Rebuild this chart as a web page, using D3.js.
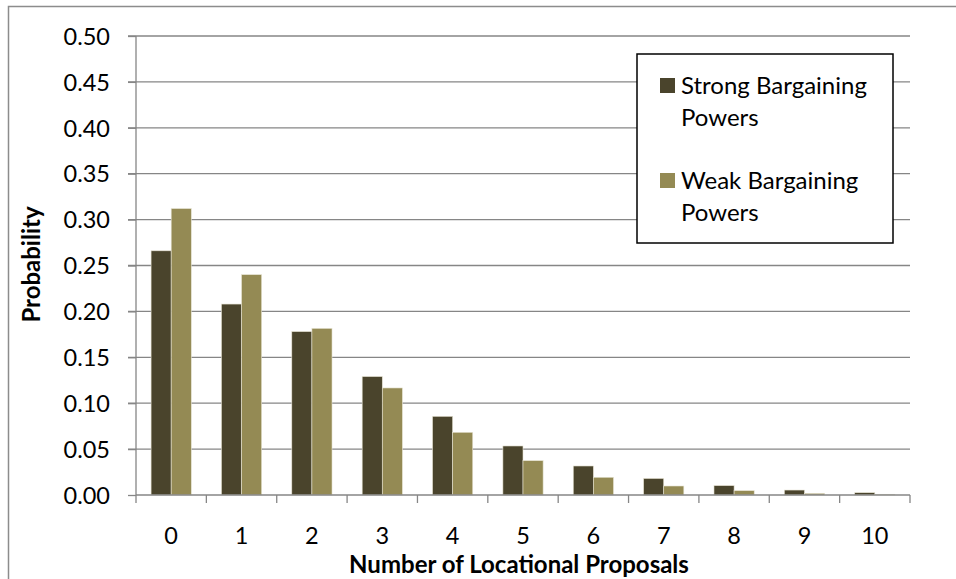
<!DOCTYPE html>
<html><head><meta charset="utf-8">
<script src="https://cdn.jsdelivr.net/npm/d3@7"></script>
<style>body{margin:0;background:#fff}svg{display:block}text{font-family:Lato,"Open Sans",sans-serif;fill:#000}</style>
</head><body><svg id="c" width="956" height="579"></svg>
<script>
const categories = ["0","1","2","3","4","5","6","7","8","9","10"];
const seriesNames = ["Strong Bargaining Powers","Weak Bargaining Powers"];
const strongValues = [0.266,0.208,0.178,0.129,0.0857,0.0534,0.0316,0.018,0.0102,0.0054,0.0025];
const weakValues = [0.312,0.240,0.1815,0.1166,0.0683,0.0374,0.0193,0.0098,0.0047,0.0018,0.0008];
const yTicks = [0,0.05,0.10,0.15,0.20,0.25,0.30,0.35,0.40,0.45,0.50];
const colors = ["#4a442c","#948a54"];
const xTitle = "Number of Locational Proposals";
const yTitle = "Probability";

const svg = d3.select("#c");
const L=136, R=910, T=36, B=495;
svg.append("rect").attr("x",8.5).attr("y",6.5).attr("width",1000).attr("height",1000)
  .attr("fill","none").attr("stroke","#8c8c8c").attr("stroke-width",1.5);

const x = d3.scaleBand().domain(categories).range([L,R]).paddingInner(0).paddingOuter(0);
const y = d3.scaleLinear().domain([0,0.5]).range([B,T]);
const sub = d3.scaleBand().domain([0,1]).range([0,x.bandwidth()]).paddingInner(0).paddingOuter(0.75);

svg.append("g").selectAll("line").data(yTicks.filter(d=>d>0)).join("line")
  .attr("x1",L-8).attr("x2",R).attr("y1",d=>y(d)).attr("y2",d=>y(d))
  .attr("stroke","#868686").attr("stroke-width",1.3);

const ya = svg.append("g").attr("transform",`translate(${L},0)`)
  .call(d3.axisLeft(y).tickValues(yTicks).tickFormat(d3.format(".2f")).tickSize(8).tickPadding(18));
ya.select(".domain").attr("stroke","#868686").attr("stroke-width",1.3).attr("d",`M0,${T}V${B}`);
ya.selectAll(".tick line").attr("stroke","#868686").attr("stroke-width",1.3);
ya.selectAll(".tick text").attr("font-size",23.5).attr("font-family","Lato").attr("dy","0.35em");

const data = categories.map((c,i)=>({c, v:[strongValues[i],weakValues[i]]}));
const g = svg.append("g");
data.forEach(d=>{
  d.v.forEach((v,s)=>{
    g.append("rect").attr("x",x(d.c)+sub(s)).attr("width",sub.bandwidth())
      .attr("y",y(v)).attr("height",B-y(v)).attr("fill",colors[s])
      .attr("stroke","#e6e3d3").attr("stroke-width",0.6);
  });
});

const xa = svg.append("g").attr("transform",`translate(0,${B})`)
  .call(d3.axisBottom(x).tickSize(0).tickPadding(49));
xa.select(".domain").remove();
svg.append("line").attr("x1",L).attr("x2",R).attr("y1",B).attr("y2",B).attr("stroke","#868686").attr("stroke-width",1.5);
svg.append("g").selectAll("line").data(d3.range(categories.length+1)).join("line")
  .attr("x1",i=>L+i*x.step()).attr("x2",i=>L+i*x.step()).attr("y1",B).attr("y2",B+8)
  .attr("stroke","#868686").attr("stroke-width",1.3);
xa.selectAll(".tick text").attr("font-size",23.5).attr("font-family","Lato").attr("dy","0");

svg.append("text").attr("x",519).attr("y",573).attr("text-anchor","middle")
  .attr("font-size",24).attr("font-weight","bold").text(xTitle);
svg.append("text").attr("transform",`translate(40,${(T+B)/2-1}) rotate(-90)`).attr("text-anchor","middle")
  .attr("font-size",24).attr("font-weight","bold").text(yTitle);

const lg = svg.append("g");
lg.append("rect").attr("x",637).attr("y",54).attr("width",256).attr("height",189)
  .attr("fill","#fff").attr("stroke","#000").attr("stroke-width",1.5);
const lines = [["Strong Bargaining","Powers"],["Weak Bargaining","Powers"]];
[78,173].forEach((ty,i)=>{
  lg.append("rect").attr("x",660).attr("y",ty).attr("width",15).attr("height",15).attr("fill",colors[i]);
  const t = lg.append("text").attr("x",681).attr("y",ty+16).attr("font-size",24);
  t.append("tspan").attr("x",681).text(lines[i][0]);
  t.append("tspan").attr("x",681).attr("dy",32).text(lines[i][1]);
});
</script></body></html>
